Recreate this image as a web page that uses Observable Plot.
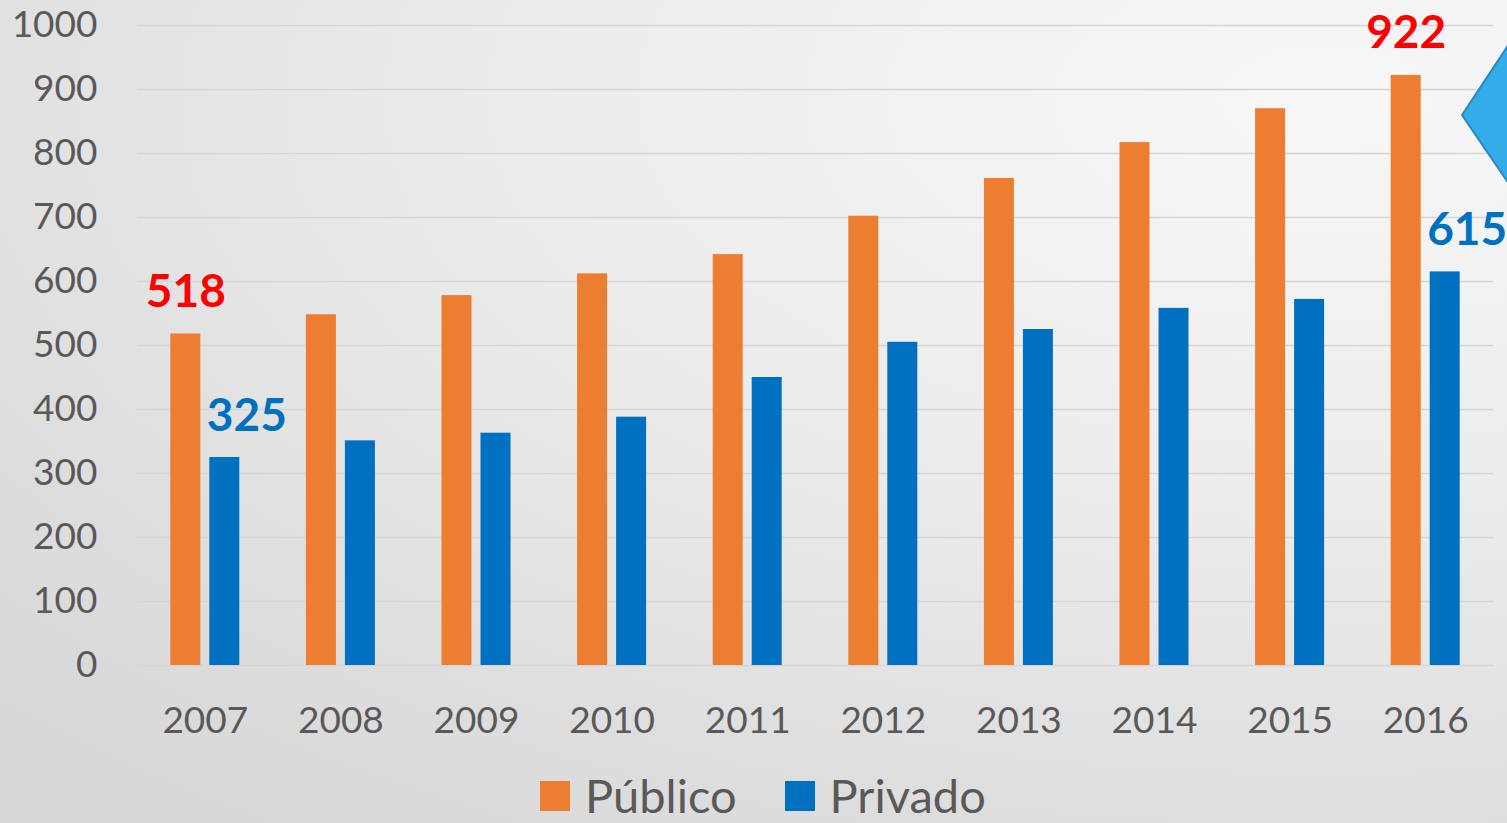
<!DOCTYPE html>
<html>
<head>
<meta charset="utf-8">
<script src="https://cdn.jsdelivr.net/npm/d3@7"></script>
<script src="https://cdn.jsdelivr.net/npm/@observablehq/plot@0.6"></script>
<style>
  html, body { margin: 0; padding: 0; }
  body {
    width: 1507px; height: 823px; overflow: hidden; position: relative;
    background: radial-gradient(ellipse 120% 110% at 88% 12%, #f7f7f7 0%, #ececec 45%, #dedede 80%, #d8d8d8 100%);
    font-family: Lato, "Open Sans", sans-serif;
  }
  #chart { position: absolute; left: 0; top: 0; }
  #legend {
    position: absolute; left: 540px; top: 772px; display: flex; align-items: center;
    font-size: 47px; color: #595959; line-height: 1;
  }
  .sw { width: 30px; height: 30px; display: inline-block; margin-right: 15px; }
  .item { display: flex; align-items: center; margin-right: 48px; }
  #deco { position: absolute; left: 0; top: 0; pointer-events: none; }
</style>
</head>
<body>
<div id="chart"></div>
<div id="legend"></div>
<svg id="deco" width="1507" height="823"><polygon points="1462,115 1509,44 1509,184" fill="#33acea" stroke="#2b87ba" stroke-width="2"/></svg>
<script>
const years = ["2007","2008","2009","2010","2011","2012","2013","2014","2015","2016"];
const series = ["Público","Privado"];
const publico = [518, 548, 578, 612, 642, 702, 761, 817, 870, 922];
const privado = [325, 351, 363, 388, 450, 505, 525, 558, 572, 615];
const colors = ["#ED7D31", "#0070C0"];
const labelColors = ["#FF0000", "#0070C0"];
const labeledYears = ["2007", "2016"];

const data = [];
years.forEach((y, i) => {
  data.push({year: y, series: series[0], value: publico[i]});
  data.push({year: y, series: series[1], value: privado[i]});
});
const labelsPub = data.filter(d => labeledYears.includes(d.year) && d.series === series[0]);
const labelsPriv = data.filter(d => labeledYears.includes(d.year) && d.series === series[1]);

const plot = Plot.plot({
  width: 1507,
  height: 760,
  marginLeft: 137,
  marginRight: 14,
  marginTop: 25,
  marginBottom: 95,
  style: {background: "transparent", fontFamily: "Lato, 'Open Sans', sans-serif", fontSize: "37px", color: "#595959"},
  fx: {domain: years, padding: 0, round: false, label: null, tickSize: 0, tickPadding: 41},
  x: {domain: series, paddingInner: 0.2308, paddingOuter: 0.854, round: false, axis: null},
  y: {domain: [0, 1000], ticks: d3.range(0, 1001, 100), tickFormat: d => String(d), tickSize: 0, tickPadding: 40, label: null},
  color: {domain: series, range: colors},
  marks: [
    Plot.gridY(d3.range(0, 1001, 100), {stroke: "#d6d6d6", strokeOpacity: 1, strokeWidth: 1.5}),
    Plot.barY(data, {fx: "year", x: "series", y: "value", fill: "series"}),
    Plot.text(labelsPub, {
      fx: "year", x: "series", y: "value", text: d => String(d.value),
      fill: labelColors[0], fontSize: 46, fontWeight: "bold", lineAnchor: "bottom",
      dy: -27
    }),
    Plot.text(labelsPriv, {
      fx: "year", x: "series", y: "value", text: d => String(d.value),
      fill: labelColors[1], fontSize: 46, fontWeight: "bold", lineAnchor: "bottom",
      dx: 22, dy: -27
    })
  ]
});
document.getElementById("chart").appendChild(plot);

const legend = document.getElementById("legend");
series.forEach((s, i) => {
  const item = document.createElement("div");
  item.className = "item";
  item.innerHTML = `<span class="sw" style="background:${colors[i]}"></span><span>${s}</span>`;
  legend.appendChild(item);
});
</script>
</body>
</html>
